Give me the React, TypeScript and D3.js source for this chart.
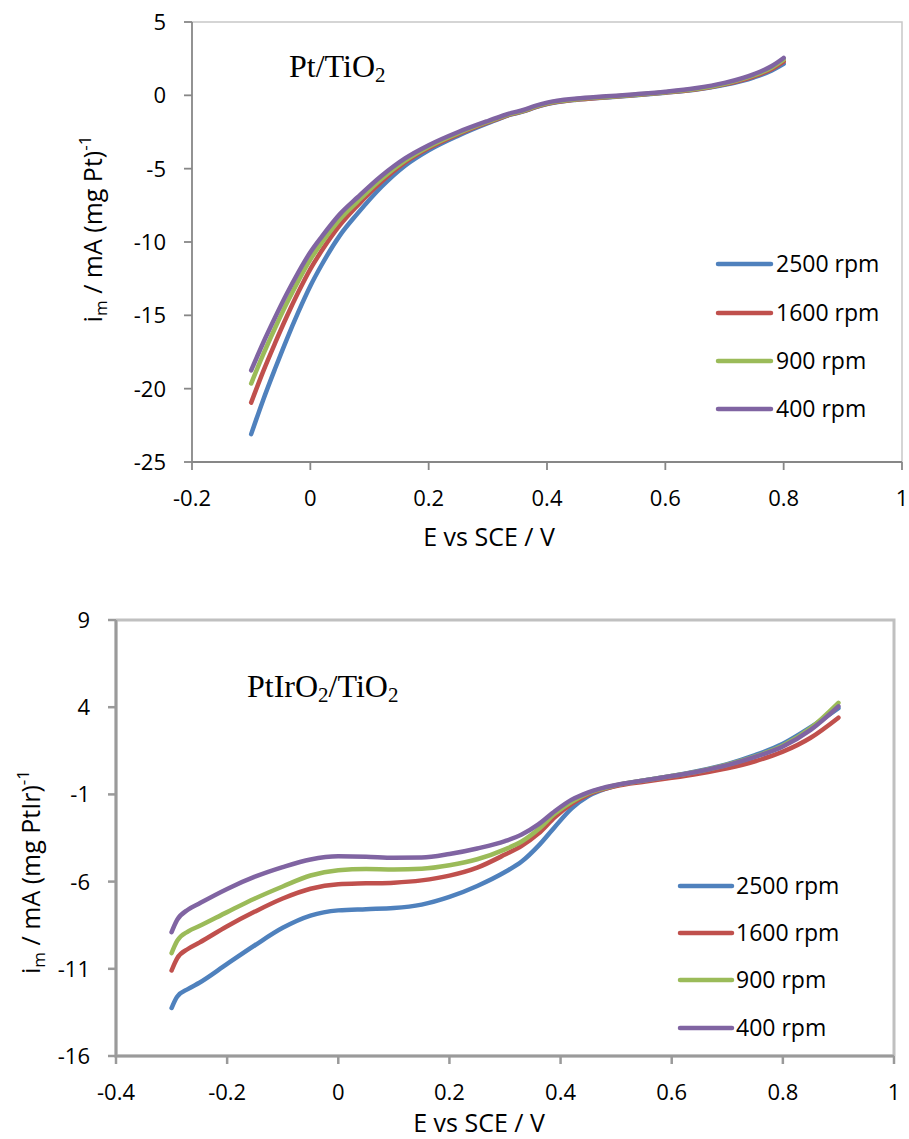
import React, { useEffect, useRef } from "react";
import * as d3 from "d3";

// ---------- Data ----------
const seriesLabels = ["2500 rpm", "1600 rpm", "900 rpm", "400 rpm"];
const seriesColors = ["#4F81BD", "#C0504D", "#9BBB59", "#8064A2"];

// Top panel: Pt/TiO2
const topE = [-0.1, -0.08, -0.06, -0.04, -0.02, 0, 0.02, 0.05, 0.08, 0.12, 0.16, 0.2, 0.25, 0.3, 0.34, 0.36, 0.38, 0.4, 0.45, 0.5, 0.55, 0.6, 0.65, 0.7, 0.75, 0.78, 0.8];
const top2500 = [-23.1, -20.8, -18.68, -16.65, -14.75, -13.0, -11.5, -9.55, -8.05, -6.25, -4.8, -3.75, -2.75, -1.9, -1.3, -1.1, -0.82, -0.6, -0.3, -0.14, 0.01, 0.18, 0.38, 0.71, 1.23, 1.7, 2.15];
const top1600 = [-20.95, -18.85, -16.93, -15.1, -13.4, -11.85, -10.55, -8.85, -7.5, -5.9, -4.58, -3.6, -2.65, -1.85, -1.28, -1.08, -0.8, -0.58, -0.29, -0.13, 0.02, 0.19, 0.4, 0.75, 1.3, 1.8, 2.3];
const top900 = [-19.65, -17.7, -15.9, -14.2, -12.63, -11.2, -10.02, -8.45, -7.23, -5.7, -4.45, -3.5, -2.58, -1.8, -1.25, -1.05, -0.77, -0.55, -0.26, -0.11, 0.04, 0.21, 0.43, 0.79, 1.37, 1.9, 2.43];
const top400 = [-18.75, -16.9, -15.18, -13.55, -12.05, -10.7, -9.6, -8.1, -6.95, -5.5, -4.3, -3.4, -2.5, -1.75, -1.2, -1.0, -0.72, -0.5, -0.22, -0.07, 0.08, 0.25, 0.48, 0.85, 1.45, 2.0, 2.55];
const topXTicks = [-0.2, 0, 0.2, 0.4, 0.6, 0.8, 1];
const topYTicks = [5, 0, -5, -10, -15, -20, -25];

// Bottom panel: PtIrO2/TiO2
const botE = [-0.3, -0.29, -0.27, -0.25, -0.2, -0.15, -0.1, -0.05, 0, 0.05, 0.1, 0.15, 0.2, 0.25, 0.3, 0.33, 0.36, 0.39, 0.42, 0.45, 0.5, 0.55, 0.6, 0.65, 0.7, 0.75, 0.8, 0.85, 0.9];
const bot2500 = [-13.25, -12.6, -12.15, -11.8, -10.72, -9.65, -8.65, -7.95, -7.65, -7.58, -7.52, -7.32, -6.88, -6.25, -5.45, -4.85, -3.95, -2.85, -1.8, -1.1, -0.5, -0.2, 0.05, 0.36, 0.74, 1.25, 1.9, 2.85, 3.95];
const bot1600 = [-11.1, -10.4, -9.85, -9.5, -8.56, -7.72, -6.97, -6.41, -6.15, -6.1, -6.06, -5.93, -5.66, -5.2, -4.45, -3.95, -3.25, -2.3, -1.55, -1.0, -0.52, -0.27, -0.05, 0.2, 0.5, 0.9, 1.45, 2.25, 3.4];
const bot900 = [-10.1, -9.4, -8.85, -8.55, -7.75, -6.97, -6.28, -5.65, -5.35, -5.28, -5.3, -5.26, -5.06, -4.72, -4.15, -3.7, -3.0, -2.1, -1.42, -0.93, -0.47, -0.2, 0.05, 0.33, 0.7, 1.18, 1.8, 2.8, 4.25];
const bot400 = [-8.9, -8.2, -7.6, -7.25, -6.42, -5.72, -5.17, -4.73, -4.55, -4.57, -4.63, -4.62, -4.42, -4.1, -3.68, -3.3, -2.72, -1.95, -1.3, -0.88, -0.46, -0.2, 0.05, 0.33, 0.68, 1.15, 1.75, 2.7, 4.05];
const botXTicks = [-0.4, -0.2, 0, 0.2, 0.4, 0.6, 0.8, 1];
const botYTicks = [9, 4, -1, -6, -11, -16];

const FONT = "'Open Sans', 'DejaVu Sans', sans-serif";
const SERIF = "'Liberation Serif', 'Times New Roman', serif";

type Panel = {
  E: number[];
  series: number[][];
  xDomain: [number, number];
  yDomain: [number, number];
  xRange: [number, number];
  yRange: [number, number];
  xTicks: number[];
  yTicks: number[];
  heavy: boolean;
  yLabelRight: number;
  xLabelBaseline: number;
  legendX: [number, number];
  legendTextX: number;
  legendY: number[];
};

function drawPanel(g: any, p: Panel) {
  const x = d3.scaleLinear().domain(p.xDomain).range(p.xRange);
  const y = d3.scaleLinear().domain(p.yDomain).range(p.yRange);
  const [x0, x1] = p.xRange;
  const [yb, yt] = p.yRange;

  // plot area border (top & right)
  g.append("path")
    .attr("d", `M${x0},${yt}H${x1}V${yb}`)
    .attr("fill", "none")
    .attr("stroke", p.heavy ? "#C0C0C0" : "#C8C8C8")
    .attr("stroke-width", p.heavy ? 3 : 1.5);

  const axisColor = p.heavy ? "#9A9A9A" : "#878787";
  const axisW = p.heavy ? 2.5 : 1.8;
  if (p.heavy) {
    g.append("path")
      .attr("d", `M${x0},${yt}V${yb}H${x1}`)
      .attr("fill", "none")
      .attr("stroke", "#C0C0C0")
      .attr("stroke-width", 3.5);
  }
  g.append("line").attr("x1", x0).attr("x2", x0).attr("y1", yt).attr("y2", yb)
    .attr("stroke", axisColor).attr("stroke-width", axisW);
  g.append("line").attr("x1", x0).attr("x2", x1).attr("y1", yb).attr("y2", yb)
    .attr("stroke", axisColor).attr("stroke-width", axisW);

  p.yTicks.forEach((t) => {
    g.append("line").attr("x1", x0 - 8).attr("x2", x0).attr("y1", y(t)).attr("y2", y(t))
      .attr("stroke", axisColor).attr("stroke-width", axisW);
    g.append("text").attr("x", p.yLabelRight).attr("y", y(t)).attr("dy", "0.36em")
      .attr("text-anchor", "end").attr("font-family", FONT).attr("font-size", 22)
      .attr("fill", "#000").text(String(t));
  });
  p.xTicks.forEach((t) => {
    g.append("line").attr("x1", x(t)).attr("x2", x(t)).attr("y1", yb).attr("y2", yb + 8)
      .attr("stroke", axisColor).attr("stroke-width", axisW);
    g.append("text").attr("x", x(t)).attr("y", p.xLabelBaseline)
      .attr("text-anchor", "middle").attr("font-family", FONT).attr("font-size", 22)
      .attr("fill", "#000").text(String(t));
  });

  const line = d3.line<[number, number]>()
    .x((d) => x(d[0]))
    .y((d) => y(d[1]))
    .curve(d3.curveMonotoneX);
  p.series.forEach((vals, i) => {
    const pts: [number, number][] = p.E.map((e, k) => [e, vals[k]]);
    g.append("path").attr("d", line(pts) as string)
      .attr("fill", "none").attr("stroke", seriesColors[i])
      .attr("stroke-width", 4.5).attr("stroke-linecap", "round").attr("stroke-linejoin", "round");
  });

  seriesLabels.forEach((lab, i) => {
    const ly = p.legendY[i];
    g.append("line").attr("x1", p.legendX[0]).attr("x2", p.legendX[1]).attr("y1", ly).attr("y2", ly)
      .attr("stroke", seriesColors[i]).attr("stroke-width", 4.5).attr("stroke-linecap", "round");
    g.append("text").attr("x", p.legendTextX).attr("y", ly).attr("dy", "0.36em")
      .attr("font-family", FONT).attr("font-size", 23).attr("fill", "#000").text(lab);
  });
}

export default function App() {
  const ref = useRef<SVGGElement | null>(null);

  useEffect(() => {
    const root = d3.select(ref.current);
    root.selectAll("*").remove();

    drawPanel(root.append("g"), {
      E: topE,
      series: [top2500, top1600, top900, top400],
      xDomain: [-0.2, 1],
      yDomain: [-25, 5],
      xRange: [192, 902],
      yRange: [462, 22],
      xTicks: topXTicks,
      yTicks: topYTicks,
      heavy: false,
      yLabelRight: 166,
      xLabelBaseline: 506,
      legendX: [718, 771],
      legendTextX: 776,
      legendY: [264, 313, 361, 409],
    });

    drawPanel(root.append("g"), {
      E: botE,
      series: [bot2500, bot1600, bot900, bot400],
      xDomain: [-0.4, 1],
      yDomain: [-16, 9],
      xRange: [116, 894],
      yRange: [1056, 620],
      xTicks: botXTicks,
      yTicks: botYTicks,
      heavy: true,
      yLabelRight: 90,
      xLabelBaseline: 1100,
      legendX: [680, 732],
      legendTextX: 736,
      legendY: [886, 933, 980, 1028],
    });
  }, []);

  return (
    <svg
      width={909}
      height={1139}
      style={{ position: "absolute", left: 0, top: 0, background: "#fff" }}
    >
      <g ref={ref} />
      {/* titles */}
      <text x={289} y={77} fontFamily={SERIF} fontSize={32} fill="#000">
        Pt/TiO<tspan fontSize={21} dy={5}>2</tspan>
      </text>
      <text x={247} y={697} fontFamily={SERIF} fontSize={32} fill="#000">
        PtIrO<tspan fontSize={21} dy={5}>2</tspan>
        <tspan dy={-5}>/TiO</tspan>
        <tspan fontSize={21} dy={5}>2</tspan>
      </text>

      {/* axis titles */}
      <text x={489} y={546} textAnchor="middle" fontFamily={FONT} fontSize={25} fill="#000">
        E vs SCE / V
      </text>
      <text x={479} y={1132} textAnchor="middle" fontFamily={FONT} fontSize={25} fill="#000">
        E vs SCE / V
      </text>
      <text transform="translate(102,229) rotate(-90)" textAnchor="middle" fontFamily={FONT} fontSize={25} fill="#000">
        i<tspan fontSize={17} dy={5}>m</tspan>
        <tspan dy={-5}> / mA (mg Pt)</tspan>
        <tspan fontSize={17} dy={-11}>-1</tspan>
      </text>
      <text transform="translate(40,872) rotate(-90)" textAnchor="middle" fontFamily={FONT} fontSize={25} fill="#000">
        i<tspan fontSize={17} dy={5}>m</tspan>
        <tspan dy={-5}> / mA (mg PtIr)</tspan>
        <tspan fontSize={17} dy={-11}>-1</tspan>
      </text>
    </svg>
  );
}
